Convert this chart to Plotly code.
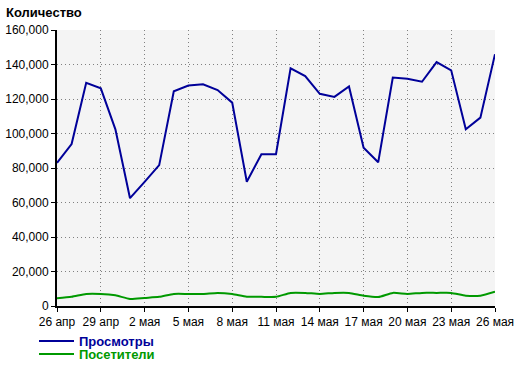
import plotly.graph_objects as go
import pandas as pd

dates = pd.date_range("2010-04-26", "2010-05-26", freq="D")
views = [83000, 93900, 129400, 126200, 102400, 62500, 72000, 81700, 124500, 127800,
         128500, 125200, 117900, 72000, 88000, 88000, 137800, 133300, 123000, 121200,
         127300, 91800, 83300, 132400, 131800, 130000, 141400, 136600, 102400, 109200, 146000]
visitors = [4500, 5300, 7000, 7000, 6200, 4100, 4700, 5300, 7000, 7000,
            7000, 7600, 7000, 5400, 5300, 5300, 7600, 7600, 7000, 7600,
            7600, 6000, 5200, 7600, 7000, 7600, 7600, 7600, 6000, 6000, 8300]
tick_dates = dates[::3]
tick_labels = ["26 апр", "29 апр", "2 мая", "5 мая", "8 мая", "11 мая",
               "14 мая", "17 мая", "20 мая", "23 мая", "26 мая"]
y_ticks = [0, 20000, 40000, 60000, 80000, 100000, 120000, 140000, 160000]

BLUE = "#000099"
GREEN = "#009900"
FONT = "Liberation Sans, Arial, sans-serif"

fig = go.Figure()
fig.add_trace(go.Scatter(x=dates, y=views, mode="lines", name="Просмотры",
                         line=dict(color=BLUE, width=2), legend="legend"))
fig.add_trace(go.Scatter(x=dates, y=visitors, mode="lines", name="Посетители",
                         line=dict(color=GREEN, width=2, shape="spline", smoothing=0.6),
                         legend="legend2"))

fig.update_layout(
    width=520, height=366,
    margin=dict(l=57, r=25, t=30, b=60, autoexpand=False),
    paper_bgcolor="white", plot_bgcolor="#f4f4f4",
    font=dict(family=FONT, size=12, color="black"),
    title=dict(text="<b>Количество</b>", xref="container", yref="container",
               x=0, xanchor="left", y=1-12/366, yanchor="middle",
               pad=dict(l=6, r=0, t=0, b=0),
               font=dict(family=FONT, size=13, color="black")),
    legend=dict(xref="container", yref="container", x=34/520, xanchor="left",
                y=1-326/366, yanchor="top",
                bgcolor="rgba(0,0,0,0)", font=dict(family=FONT, size=13, color=BLUE, weight="bold"),
                itemwidth=35),
    legend2=dict(xref="container", yref="container", x=34/520, xanchor="left",
                 y=1-339/366, yanchor="top",
                 bgcolor="rgba(0,0,0,0)", font=dict(family=FONT, size=13, color=GREEN, weight="bold"),
                 itemwidth=35),
    showlegend=True,
)
fig.update_xaxes(range=[dates[0], dates[-1]], tickvals=tick_dates, ticktext=tick_labels,
                 showgrid=True, gridcolor="#808080", griddash="1px,3px", gridwidth=1,
                 showline=True, linecolor="black", linewidth=2,
                 ticks="outside", ticklen=4, tickcolor="black", zeroline=False)
fig.update_yaxes(range=[0, 160000], tickvals=y_ticks, tickformat=",d",
                 showgrid=True, gridcolor="#808080", griddash="1px,3px", gridwidth=1,
                 showline=True, linecolor="black", linewidth=2,
                 ticks="outside", ticklen=4, tickcolor="black", zeroline=False)

fig.write_html("out.html", config={"displayModeBar": False},
               post_script="document.body.style.margin='0';document.body.style.overflow='hidden';")
